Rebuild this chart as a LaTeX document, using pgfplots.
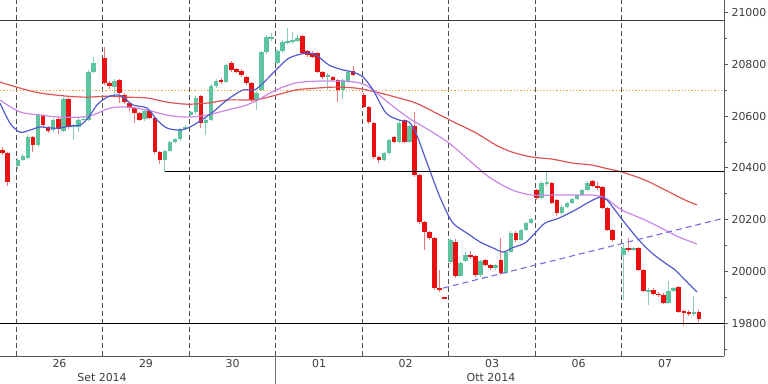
\documentclass[border=0pt]{standalone}
\usepackage{pgfplots}
\pgfplotsset{compat=1.18}
\usepackage{pgfplotstable}
\usepackage{fontspec}
\setmainfont{DejaVu Sans}
\definecolor{cgreen}{RGB}{94,196,160}
\definecolor{cred}{RGB}{232,16,16}
\definecolor{cgwick}{RGB}{140,205,180}
\definecolor{crwick}{RGB}{238,120,120}
\definecolor{mablue}{RGB}{80,92,205}
\definecolor{maviolet}{RGB}{200,135,230}
\definecolor{mared}{RGB}{222,85,85}
\definecolor{corange}{RGB}{240,160,50}
\definecolor{ctrend}{RGB}{110,110,220}
\definecolor{ctext}{RGB}{60,60,60}

% x o h l c  (x in chart units, 17 half-hour slots per day)
\pgfplotstableread{
x o h l c
2.5 20469 20480 20450 20457
7.5 20457 20462 20330 20345
32.95 20519 20525 20462 20488
43.05 20604 20610 20555 20565
48.1 20558 20562 20535 20542
58.2 20589 20595 20530 20550
68.3 20666 20670 20550 20558
104.3 20824 20867 20720 20728
109.35 20728 20735 20705 20716
119.45 20739 20745 20650 20689
124.5 20681 20690 20645 20654
129.55 20650 20655 20620 20631
134.6 20631 20636 20575 20612
139.65 20612 20616 20580 20585
149.75 20620 20625 20588 20593
154.8 20593 20598 20455 20460
159.85 20460 20465 20415 20430
200.9 20678 20682 20555 20573
221.1 20740 20748 20725 20731
231.2 20805 20812 20770 20778
236.25 20780 20785 20765 20770
241.3 20775 20780 20752 20758
246.35 20751 20755 20722 20728
251.4 20728 20732 20655 20662
302.55 20910 20915 20838 20843
307.6 20850 20856 20828 20835
312.65 20845 20850 20825 20830
317.7 20843 20846 20765 20770
322.75 20770 20775 20745 20750
332.85 20752 20756 20735 20740
337.9 20740 20745 20655 20701
353.05 20775 20795 20755 20760
363.8 20681 20690 20630 20635
368.85 20635 20640 20570 20577
373.9 20573 20578 20435 20442
378.95 20442 20446 20420 20430
394.1 20519 20524 20495 20500
404.2 20585 20590 20495 20500
414.3 20560 20616 20365 20372
419.35 20372 20378 20185 20191
424.4 20191 20196 20083 20152
429.45 20152 20156 20120 20129
434.5 20129 20134 19930 19936
439.55 19936 20006 19922 19928
444.6 19900 19902 19895 19897
455.35 20114 20125 19975 19982
470.5 20064 20080 20050 20055
475.55 20060 20065 19980 19986
485.65 20044 20050 20020 20025
490.7 20025 20030 20005 20012
500.8 20044 20130 19985 19995
515.95 20150 20155 20115 20121
536.7 20315 20320 20278 20284
551.85 20342 20346 20260 20265
556.9 20276 20280 20215 20226
592.25 20348 20355 20325 20330
597.3 20330 20345 20315 20322
602.35 20326 20330 20240 20245
607.4 20245 20250 20155 20160
612.45 20160 20165 20115 20121
628.25 20091 20129 20075 20083
638.35 20091 20095 20000 20006
643.4 20006 20010 19920 19925
653.5 19928 19935 19910 19915
658.55 19915 19920 19903 19908
663.6 19910 19916 19875 19880
678.75 19941 19945 19840 19845
683.8 19848 19852 19790 19840
688.85 19845 19850 19830 19838
698.95 19845 19850 19805 19815
}\redtab

\pgfplotstableread{
x o h l c
17.8 20407 20438 20395 20430
22.85 20430 20452 20425 20446
27.9 20440 20527 20435 20519
38.0 20488 20612 20480 20604
53.15 20546 20592 20540 20585
63.25 20542 20672 20538 20666
73.35 20558 20570 20507 20565
78.4 20558 20592 20540 20585
83.45 20585 20596 20580 20590
88.5 20585 20778 20580 20770
93.55 20770 20828 20765 20805
114.4 20712 20745 20680 20735
144.7 20589 20628 20582 20620
164.9 20430 20470 20386 20465
169.95 20465 20505 20460 20500
175.0 20500 20516 20495 20510
180.05 20510 20555 20505 20550
185.1 20550 20565 20545 20558
190.8 20604 20620 20598 20615
195.85 20615 20676 20610 20670
205.95 20573 20592 20527 20585
211.0 20585 20722 20580 20716
216.05 20716 20742 20710 20735
226.15 20731 20803 20726 20797
256.45 20662 20696 20623 20690
261.5 20701 20852 20695 20847
266.55 20847 20915 20840 20905
271.6 20898 20920 20890 20905
277.3 20805 20858 20800 20850
282.35 20850 20892 20845 20886
287.4 20882 20940 20878 20890
292.45 20886 20925 20880 20892
297.5 20890 20912 20885 20900
327.8 20752 20765 20700 20760
342.95 20701 20745 20665 20740
348.0 20731 20776 20726 20770
384.0 20430 20462 20425 20457
389.05 20457 20512 20450 20507
399.15 20500 20580 20495 20575
409.25 20500 20565 20495 20560
450.3 20035 20128 20030 20121
460.4 19982 20040 19978 20033
465.45 20040 20075 20035 20064
480.6 19986 20046 19980 20040
495.75 20012 20030 20005 20025
505.85 19995 20080 19990 20075
510.9 20075 20156 20070 20150
521.0 20121 20165 20116 20160
526.05 20160 20193 20155 20187
531.1 20187 20208 20182 20203
541.75 20284 20348 20280 20342
546.8 20338 20386 20332 20345
561.95 20226 20256 20220 20250
567.0 20250 20270 20245 20265
572.05 20265 20285 20260 20280
577.1 20280 20300 20276 20295
582.15 20295 20320 20290 20315
587.2 20315 20348 20310 20342
623.2 20064 20110 19890 20091
633.3 20083 20095 20078 20091
648.45 19920 19935 19870 19928
668.65 19880 19965 19876 19925
673.7 19925 19940 19920 19935
693.9 19835 19905 19830 19845
}\greentab

\pgfplotsset{candle/.style={only marks, mark=*, mark size=0pt,
  mark options={draw opacity=0, fill opacity=0},
  error bars/.cd, y dir=both, y explicit, error mark=none}}

\begin{document}
\begin{tikzpicture}
\useasboundingbox (0,0) rectangle (768bp,384bp);
\begin{axis}[
  at={(0bp,28bp)}, anchor=south west,
  scale only axis, width=724bp, height=356bp,
  xmin=0, xmax=724, ymin=19673.5, ymax=21048,
  clip=false,
  axis x line*=bottom, axis y line*=right,
  axis line style={draw=ctext!85, line width=0.8bp, -},
  ytick={19800,20000,...,21000},
  minor ytick={19700,19900,...,20900},
  scaled y ticks=false,
  yticklabel={\pgfmathprintnumber[fixed, precision=0, 1000 sep={}, assume math mode=true]{\tick}},
  tick align=outside,
  major tick length=4bp, minor tick length=3bp,
  y tick style={draw=ctext!85, line width=0.8bp},
  ticklabel style={font=\fontsize{11}{13}\selectfont, text=ctext},
  xtick={16.3,102.8,189.3,275.8,362.3,448.8,535.2,621.7},
  xticklabels={},
  x tick style={draw=none},
  xmajorgrids,
  major x grid style={dash pattern=on 5bp off 3bp, draw=ctext!90, line width=0.8bp},
  extra x ticks={59.5,146,232.5,319,405.5,492,578.5,665},
  extra x tick labels={26,29,30,01,02,03,06,07},
  extra x tick style={grid=none, major tick length=0pt},
]
% reference lines
\addplot[corange, dotted, line width=1.3bp] coordinates {(0,20700) (724,20700)};
% candle wicks
\addplot[candle, error bar style={line width=1bp, draw=cgwick}]
  table[x=x, y expr={(\thisrow{h}+\thisrow{l})/2}, y error expr={(\thisrow{h}-\thisrow{l})/2}] {\greentab};
\addplot[candle, error bar style={line width=1bp, draw=crwick}]
  table[x=x, y expr={(\thisrow{h}+\thisrow{l})/2}, y error expr={(\thisrow{h}-\thisrow{l})/2}] {\redtab};
% candle bodies
\addplot[candle, error bar style={line width=4.6bp, draw=cgreen}]
  table[x=x, y expr={(\thisrow{o}+\thisrow{c})/2}, y error expr={max(abs(\thisrow{o}-\thisrow{c})/2,2.5)}] {\greentab};
\addplot[candle, error bar style={line width=4.6bp, draw=cred}]
  table[x=x, y expr={(\thisrow{o}+\thisrow{c})/2}, y error expr={max(abs(\thisrow{o}-\thisrow{c})/2,2.5)}] {\redtab};
% moving averages
\addplot[mared, line width=1.2bp, smooth] coordinates {
(0,20731)(20,20708)(40,20689)(67,20677)(87,20673)(107,20677)(127,20673)(147,20670)(167,20654)(187,20646)(207,20650)(227,20662)(247,20662)(256,20662)(276,20681)(296,20701)(316,20708)(336,20712)(356,20708)(376,20693)(396,20673)(416,20650)(436,20612)(456,20573)(476,20535)(496,20488)(512,20461)(532,20442)(552,20434)(572,20419)(592,20411)(605,20399)(622,20384)(645,20353)(665,20315)(685,20276)(697,20257)};
\addplot[maviolet, line width=1.2bp, smooth] coordinates {
(0,20662)(20,20616)(40,20604)(60,20596)(80,20596)(93,20604)(110,20631)(127,20635)(147,20623)(167,20604)(187,20596)(207,20604)(227,20623)(247,20643)(256,20658)(276,20701)(296,20728)(316,20735)(336,20735)(356,20731)(369,20712)(389,20650)(409,20592)(429,20546)(449,20496)(469,20430)(489,20365)(512,20315)(532,20295)(552,20295)(572,20295)(592,20295)(605,20284)(622,20237)(645,20199)(665,20160)(679,20133)(697,20106)};
\addplot[mablue, line width=1.2bp, smooth] coordinates {
(0,20650)(10,20573)(20,20538)(30,20546)(40,20558)(50,20554)(60,20554)(70,20562)(80,20565)(88,20592)(97,20643)(107,20673)(115,20681)(122,20677)(133,20643)(147,20631)(157,20585)(167,20554)(180,20546)(190,20558)(200,20581)(213,20616)(227,20662)(243,20701)(256,20704)(276,20778)(289,20824)(306,20843)(316,20836)(329,20797)(343,20778)(353,20770)(363,20751)(373,20701)(386,20612)(399,20585)(409,20577)(416,20534)(426,20430)(436,20326)(443,20260)(453,20187)(467,20148)(480,20114)(493,20091)(503,20075)(512,20091)(525,20110)(535,20148)(545,20187)(559,20206)(575,20237)(589,20268)(600,20287)(607,20276)(615,20237)(625,20187)(639,20121)(652,20071)(665,20033)(675,20006)(685,19967)(697,19921)};
% trend line and levels
\addplot[ctrend, dash pattern=on 6bp off 4bp, line width=1.1bp] coordinates {(443,19936) (724,20206)};
\addplot[ctext, line width=1.1bp] coordinates {(0,20968) (724,20968)};
\addplot[black, line width=1.4bp] coordinates {(165,20387) (724,20387)};
\addplot[black, line width=1.4bp] coordinates {(0,19800) (724,19800)};
% month labels
\draw[ctext!70, line width=0.8bp] (axis cs:275.8,19673.5) -- ++(0,-28bp);
\node[font=\fontsize{11}{13}\selectfont, text=ctext, yshift=-21bp] at (axis cs:102,19673.5) {Set 2014};
\node[font=\fontsize{11}{13}\selectfont, text=ctext, yshift=-21bp] at (axis cs:491,19673.5) {Ott 2014};
\end{axis}
\end{tikzpicture}
\end{document}
